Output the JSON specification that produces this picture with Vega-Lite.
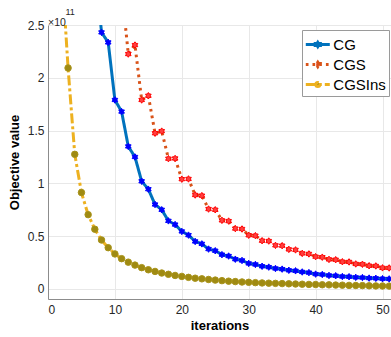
{
  "$schema": "https://vega.github.io/schema/vega-lite/v6.json",
  "width": 343,
  "height": 274,
  "autosize": {"type": "none"},
  "padding": {"left": 48, "top": 25, "right": 0, "bottom": 38},
  "background": "white",
  "title": {"text": "\u200b\u00a0\u00a0\u00a0\u00a0\u00a0\u00a0\u00a011", "subtitle": "×10", "anchor": "start", "frame": "group", "fontSize": 9, "fontWeight": "normal", "color": "#262626", "font": "Liberation Sans", "subtitleFont": "Liberation Sans", "subtitleFontSize": 10.5, "subtitleColor": "#262626", "subtitlePadding": 0.5, "offset": -9},
  "config": {
    "view": {"stroke": null},
    "font": "Liberation Sans",
    "axis": {"labelFont": "Liberation Sans", "labelFontSize": 12, "labelColor": "#262626", "titleFont": "Liberation Sans", "titleFontSize": 13, "titleFontWeight": "bold", "titleColor": "#000000", "gridColor": "#e8e8e8", "gridWidth": 1, "domainColor": "#8c8c8c", "ticks": false}
  },
  "data": {"values": [
    {"method": "CG", "iteration": 7, "objective": 3.1e11},
    {"method": "CG", "iteration": 8, "objective": 2.43e11},
    {"method": "CG", "iteration": 9, "objective": 2.335e11},
    {"method": "CG", "iteration": 10, "objective": 1.79e11},
    {"method": "CG", "iteration": 11, "objective": 1.68e11},
    {"method": "CG", "iteration": 12, "objective": 1.35e11},
    {"method": "CG", "iteration": 13, "objective": 1.25e11},
    {"method": "CG", "iteration": 14, "objective": 1.02e11},
    {"method": "CG", "iteration": 15, "objective": 0.945e11},
    {"method": "CG", "iteration": 16, "objective": 0.80e11},
    {"method": "CG", "iteration": 17, "objective": 0.75e11},
    {"method": "CG", "iteration": 18, "objective": 0.645e11},
    {"method": "CG", "iteration": 19, "objective": 0.61e11},
    {"method": "CG", "iteration": 20, "objective": 0.545e11},
    {"method": "CG", "iteration": 21, "objective": 0.51e11},
    {"method": "CG", "iteration": 22, "objective": 0.45e11},
    {"method": "CG", "iteration": 23, "objective": 0.427e11},
    {"method": "CG", "iteration": 24, "objective": 0.378e11},
    {"method": "CG", "iteration": 25, "objective": 0.362e11},
    {"method": "CG", "iteration": 26, "objective": 0.325e11},
    {"method": "CG", "iteration": 27, "objective": 0.312e11},
    {"method": "CG", "iteration": 28, "objective": 0.282e11},
    {"method": "CG", "iteration": 29, "objective": 0.27e11},
    {"method": "CG", "iteration": 30, "objective": 0.242e11},
    {"method": "CG", "iteration": 31, "objective": 0.232e11},
    {"method": "CG", "iteration": 32, "objective": 0.215e11},
    {"method": "CG", "iteration": 33, "objective": 0.207e11},
    {"method": "CG", "iteration": 34, "objective": 0.194e11},
    {"method": "CG", "iteration": 35, "objective": 0.188e11},
    {"method": "CG", "iteration": 36, "objective": 0.177e11},
    {"method": "CG", "iteration": 37, "objective": 0.172e11},
    {"method": "CG", "iteration": 38, "objective": 0.161e11},
    {"method": "CG", "iteration": 39, "objective": 0.155e11},
    {"method": "CG", "iteration": 40, "objective": 0.141e11},
    {"method": "CG", "iteration": 41, "objective": 0.137e11},
    {"method": "CG", "iteration": 42, "objective": 0.128e11},
    {"method": "CG", "iteration": 43, "objective": 0.125e11},
    {"method": "CG", "iteration": 44, "objective": 0.118e11},
    {"method": "CG", "iteration": 45, "objective": 0.116e11},
    {"method": "CG", "iteration": 46, "objective": 0.110e11},
    {"method": "CG", "iteration": 47, "objective": 0.108e11},
    {"method": "CG", "iteration": 48, "objective": 0.103e11},
    {"method": "CG", "iteration": 49, "objective": 0.101e11},
    {"method": "CG", "iteration": 50, "objective": 0.097e11},
    {"method": "CG", "iteration": 51, "objective": 0.095e11},
    {"method": "CGS", "iteration": 11, "objective": 2.85e11},
    {"method": "CGS", "iteration": 12, "objective": 2.225e11},
    {"method": "CGS", "iteration": 13, "objective": 2.31e11},
    {"method": "CGS", "iteration": 14, "objective": 1.79e11},
    {"method": "CGS", "iteration": 15, "objective": 1.83e11},
    {"method": "CGS", "iteration": 16, "objective": 1.475e11},
    {"method": "CGS", "iteration": 17, "objective": 1.495e11},
    {"method": "CGS", "iteration": 18, "objective": 1.234e11},
    {"method": "CGS", "iteration": 19, "objective": 1.236e11},
    {"method": "CGS", "iteration": 20, "objective": 1.04e11},
    {"method": "CGS", "iteration": 21, "objective": 1.042e11},
    {"method": "CGS", "iteration": 22, "objective": 0.89e11},
    {"method": "CGS", "iteration": 23, "objective": 0.884e11},
    {"method": "CGS", "iteration": 24, "objective": 0.757e11},
    {"method": "CGS", "iteration": 25, "objective": 0.75e11},
    {"method": "CGS", "iteration": 26, "objective": 0.65e11},
    {"method": "CGS", "iteration": 27, "objective": 0.643e11},
    {"method": "CGS", "iteration": 28, "objective": 0.572e11},
    {"method": "CGS", "iteration": 29, "objective": 0.568e11},
    {"method": "CGS", "iteration": 30, "objective": 0.509e11},
    {"method": "CGS", "iteration": 31, "objective": 0.505e11},
    {"method": "CGS", "iteration": 32, "objective": 0.457e11},
    {"method": "CGS", "iteration": 33, "objective": 0.454e11},
    {"method": "CGS", "iteration": 34, "objective": 0.413e11},
    {"method": "CGS", "iteration": 35, "objective": 0.41e11},
    {"method": "CGS", "iteration": 36, "objective": 0.375e11},
    {"method": "CGS", "iteration": 37, "objective": 0.37e11},
    {"method": "CGS", "iteration": 38, "objective": 0.337e11},
    {"method": "CGS", "iteration": 39, "objective": 0.332e11},
    {"method": "CGS", "iteration": 40, "objective": 0.306e11},
    {"method": "CGS", "iteration": 41, "objective": 0.301e11},
    {"method": "CGS", "iteration": 42, "objective": 0.28e11},
    {"method": "CGS", "iteration": 43, "objective": 0.277e11},
    {"method": "CGS", "iteration": 44, "objective": 0.258e11},
    {"method": "CGS", "iteration": 45, "objective": 0.256e11},
    {"method": "CGS", "iteration": 46, "objective": 0.237e11},
    {"method": "CGS", "iteration": 47, "objective": 0.234e11},
    {"method": "CGS", "iteration": 48, "objective": 0.22e11},
    {"method": "CGS", "iteration": 49, "objective": 0.218e11},
    {"method": "CGS", "iteration": 50, "objective": 0.2e11},
    {"method": "CGS", "iteration": 51, "objective": 0.199e11},
    {"method": "CGSIns", "iteration": 2, "objective": 3.1e11},
    {"method": "CGSIns", "iteration": 3, "objective": 2.093e11},
    {"method": "CGSIns", "iteration": 4, "objective": 1.275e11},
    {"method": "CGSIns", "iteration": 5, "objective": 0.913e11},
    {"method": "CGSIns", "iteration": 6, "objective": 0.704e11},
    {"method": "CGSIns", "iteration": 7, "objective": 0.566e11},
    {"method": "CGSIns", "iteration": 8, "objective": 0.464e11},
    {"method": "CGSIns", "iteration": 9, "objective": 0.391e11},
    {"method": "CGSIns", "iteration": 10, "objective": 0.332e11},
    {"method": "CGSIns", "iteration": 11, "objective": 0.287e11},
    {"method": "CGSIns", "iteration": 12, "objective": 0.254e11},
    {"method": "CGSIns", "iteration": 13, "objective": 0.226e11},
    {"method": "CGSIns", "iteration": 14, "objective": 0.202e11},
    {"method": "CGSIns", "iteration": 15, "objective": 0.182e11},
    {"method": "CGSIns", "iteration": 16, "objective": 0.166e11},
    {"method": "CGSIns", "iteration": 17, "objective": 0.151e11},
    {"method": "CGSIns", "iteration": 18, "objective": 0.139e11},
    {"method": "CGSIns", "iteration": 19, "objective": 0.128e11},
    {"method": "CGSIns", "iteration": 20, "objective": 0.119e11},
    {"method": "CGSIns", "iteration": 21, "objective": 0.11e11},
    {"method": "CGSIns", "iteration": 22, "objective": 0.102e11},
    {"method": "CGSIns", "iteration": 23, "objective": 0.096e11},
    {"method": "CGSIns", "iteration": 24, "objective": 0.09e11},
    {"method": "CGSIns", "iteration": 25, "objective": 0.084e11},
    {"method": "CGSIns", "iteration": 26, "objective": 0.079e11},
    {"method": "CGSIns", "iteration": 27, "objective": 0.074e11},
    {"method": "CGSIns", "iteration": 28, "objective": 0.07e11},
    {"method": "CGSIns", "iteration": 29, "objective": 0.066e11},
    {"method": "CGSIns", "iteration": 30, "objective": 0.063e11},
    {"method": "CGSIns", "iteration": 31, "objective": 0.06e11},
    {"method": "CGSIns", "iteration": 32, "objective": 0.057e11},
    {"method": "CGSIns", "iteration": 33, "objective": 0.055e11},
    {"method": "CGSIns", "iteration": 34, "objective": 0.053e11},
    {"method": "CGSIns", "iteration": 35, "objective": 0.051e11},
    {"method": "CGSIns", "iteration": 36, "objective": 0.049e11},
    {"method": "CGSIns", "iteration": 37, "objective": 0.047e11},
    {"method": "CGSIns", "iteration": 38, "objective": 0.045e11},
    {"method": "CGSIns", "iteration": 39, "objective": 0.043e11},
    {"method": "CGSIns", "iteration": 40, "objective": 0.042e11},
    {"method": "CGSIns", "iteration": 41, "objective": 0.04e11},
    {"method": "CGSIns", "iteration": 42, "objective": 0.039e11},
    {"method": "CGSIns", "iteration": 43, "objective": 0.037e11},
    {"method": "CGSIns", "iteration": 44, "objective": 0.036e11},
    {"method": "CGSIns", "iteration": 45, "objective": 0.034e11},
    {"method": "CGSIns", "iteration": 46, "objective": 0.033e11},
    {"method": "CGSIns", "iteration": 47, "objective": 0.032e11},
    {"method": "CGSIns", "iteration": 48, "objective": 0.03e11},
    {"method": "CGSIns", "iteration": 49, "objective": 0.029e11},
    {"method": "CGSIns", "iteration": 50, "objective": 0.028e11},
    {"method": "CGSIns", "iteration": 51, "objective": 0.027e11}
  ]},
  "layer": [
    {
      "mark": {"type": "line", "strokeWidth": 3, "clip": true, "strokeCap": "butt"},
      "encoding": {
        "x": {"field": "iteration", "type": "quantitative", "scale": {"domain": [0, 51.27], "nice": false, "zero": false}, "axis": {"title": "iterations", "values": [0, 10, 20, 30, 40, 50], "labelPadding": 5, "titlePadding": 4}},
        "y": {"field": "objective", "type": "quantitative", "scale": {"domain": [-9.5e9, 2.5e11], "nice": false, "zero": false}, "axis": {"title": "Objective value", "values": [0, 5e10, 1e11, 1.5e11, 2e11, 2.5e11], "labelExpr": "datum.value / 1e11", "labelPadding": 4, "titlePadding": 6}},
        "color": {"field": "method", "type": "nominal", "scale": {"domain": ["CG", "CGS", "CGSIns"], "range": ["#0072BD", "#D95319", "#EDB120"]},
          "legend": {"orient": "none", "legendX": 254, "legendY": 5, "title": null, "symbolSize": 400, "symbolStrokeWidth": 3, "labelFontSize": 15, "labelFont": "Liberation Sans", "labelColor": "#000000", "strokeColor": "#9a9a9a", "fillColor": "white", "padding": 3, "rowPadding": -1.6, "labelOffset": 5.3, "cornerRadius": 0,
            "encode": {"symbols": {"update": {
              "fill": {"signal": "datum.value === 'CG' ? '#0000ff' : datum.value === 'CGS' ? '#ff3030' : '#9f8a12'"},
              "fillOpacity": {"value": 1},
              "shape": {"signal": "datum.value === 'CGSIns' ? 'M-1.07,0L1.33,0M0.33,0A0.2,0.2,0,1,1,-0.07,0A0.2,0.2,0,1,1,0.33,0Z' : 'M-1.07,0L1.33,0M0.13,-0.22L0.195,-0.113L0.32,-0.11L0.26,0L0.32,0.11L0.195,0.113L0.13,0.22L0.065,0.113L-0.06,0.11L0,0L-0.06,-0.11L0.065,-0.113Z'"}
            }}}}},
        "strokeDash": {"field": "method", "type": "nominal", "scale": {"domain": ["CG", "CGS", "CGSIns"], "range": [[1, 0], [2.7, 4], [10, 3, 3, 3]]}}
      }
    },
    {
      "transform": [{"filter": "datum.method !== 'CGSIns'"}],
      "mark": {"type": "point", "filled": true, "clip": true, "opacity": 1, "strokeWidth": 1, "size": 42, "shape": "M0,-1L0.3,-0.52L0.866,-0.5L0.6,0L0.866,0.5L0.3,0.52L0,1L-0.3,0.52L-0.866,0.5L-0.6,0L-0.866,-0.5L-0.3,-0.52Z"},
      "encoding": {
        "x": {"field": "iteration", "type": "quantitative"},
        "y": {"field": "objective", "type": "quantitative"},
        "fill": {"field": "method", "type": "nominal", "scale": {"domain": ["CG", "CGS", "CGSIns"], "range": ["#0000ff", "#ff4040", "#9f8a12"]}, "legend": null},
        "stroke": {"field": "method", "type": "nominal", "scale": {"domain": ["CG", "CGS", "CGSIns"], "range": ["#0000ff", "#ff0000", "#a8931a"]}, "legend": null}
      }
    },
    {
      "transform": [{"filter": "datum.method === 'CGSIns'"}],
      "mark": {"type": "point", "filled": true, "clip": true, "opacity": 1, "strokeWidth": 1, "size": 42, "shape": "circle"},
      "encoding": {
        "x": {"field": "iteration", "type": "quantitative"},
        "y": {"field": "objective", "type": "quantitative"},
        "fill": {"field": "method", "type": "nominal", "legend": null},
        "stroke": {"field": "method", "type": "nominal", "legend": null}
      }
    }
  ]
}
